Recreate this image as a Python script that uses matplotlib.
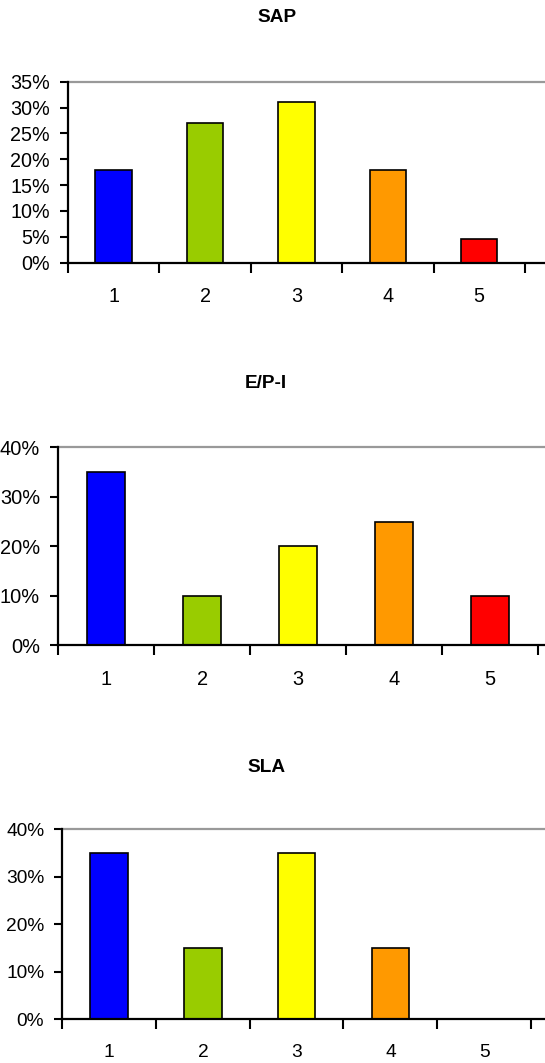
import matplotlib
matplotlib.use("Agg")
import matplotlib.pyplot as plt
from matplotlib.ticker import FixedLocator, FuncFormatter

plt.rcParams["font.family"] = ["Liberation Sans", "DejaVu Sans"]

categories = ["1", "2", "3", "4", "5"]
colors = ["#0000FF", "#99CC00", "#FFFF00", "#FF9900", "#FF0000"]

sap_values = [18.0, 27.0, 31.0, 18.0, 4.5]
epi_values = [35.0, 10.0, 20.0, 25.0, 10.0]
sla_values = [35.0, 15.0, 35.0, 15.0, 0.0]

sap_ticks = [0, 5, 10, 15, 20, 25, 30, 35]
epi_ticks = [0, 10, 20, 30, 40]
sla_ticks = [0, 10, 20, 30, 40]

W, H = 545, 1063
fig = plt.figure(figsize=(W / 100, H / 100), dpi=100)


def px_axes(left, top, bottom, right=W):
    return fig.add_axes([left / W, (H - bottom) / H, (right - left) / W, (bottom - top) / H])


def bar_panel(ax, title, title_xy, values, yticks, xmax, fs):
    x = list(range(1, len(categories) + 1))
    ax.bar(x, values, width=0.4, color=colors, edgecolor="black",
           linewidth=1.2, zorder=2)
    ax.set_xlim(0.5, xmax)
    ax.set_ylim(yticks[0], yticks[-1])

    ax.xaxis.set_major_locator(FixedLocator(x))
    ax.set_xticklabels(categories)
    ax.xaxis.set_minor_locator(FixedLocator([i + 0.5 for i in range(0, 6)]))
    ax.tick_params(axis="x", which="major", length=0, pad=17.5, labelsize=fs)
    ax.tick_params(axis="x", which="minor", length=7, width=1.5, direction="out",
                   color="black")

    ax.yaxis.set_major_locator(FixedLocator(yticks))
    ax.yaxis.set_major_formatter(FuncFormatter(lambda v, p: f"{v:.0f}%"))
    ax.tick_params(axis="y", which="major", length=6, width=1.5, direction="out",
                   pad=7, labelsize=fs)

    for side in ("left", "bottom"):
        ax.spines[side].set_linewidth(1.6)
        ax.spines[side].set_color("black")
        ax.spines[side].set_zorder(3)
    ax.spines["right"].set_visible(False)
    ax.spines["top"].set_color("#999999")
    ax.spines["top"].set_linewidth(1.6)

    fig.text(title_xy[0] / W, 1 - title_xy[1] / H, title, ha="center", va="center",
             fontsize=13.7, fontweight="bold")


ax1 = px_axes(68, 81.7, 262.7)
bar_panel(ax1, "SAP", (277, 17.5), sap_values, sap_ticks, 5.72, 14.2)

ax2 = px_axes(58, 447.3, 645.3)
bar_panel(ax2, "E/P-I", (266, 384), epi_values, epi_ticks, 5.57, 14.4)

ax3 = px_axes(62.3, 829.3, 1019.3)
bar_panel(ax3, "SLA", (267, 767), sla_values, sla_ticks, 5.65, 13.8)

fig.savefig("out.png", dpi=100)
